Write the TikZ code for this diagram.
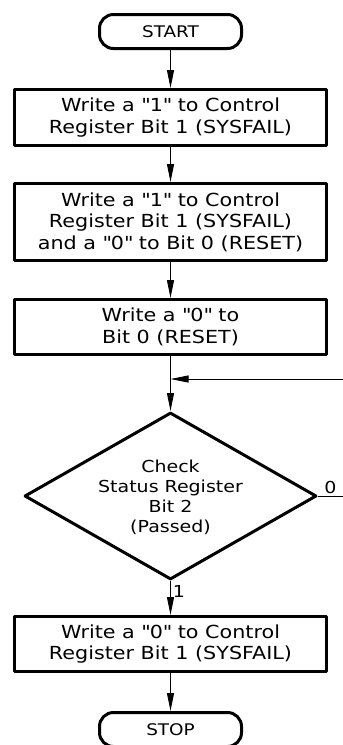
\documentclass[tikz,border=0pt]{standalone}
\usepackage{fontspec}
\setmainfont[FakeStretch=1.15]{DejaVu Sans}
\usetikzlibrary{shapes.geometric}
\usetikzlibrary{arrows.meta}
\newcommand{\qt}[1]{\textquotedbl#1\textquotedbl}

\begin{document}
\begin{tikzpicture}[line cap=round,line join=round,>={Triangle[length=18pt,width=7pt]},x=1pt,y=-1pt,
            stepbox/.style={draw,line width=3pt,minimum width=312pt,inner sep=0pt,align=center,font=\fontsize{18}{21.5}\selectfont},
            endbox/.style={draw,line width=3pt,rounded corners=14pt,minimum width=142pt,minimum height=34pt,inner sep=0pt,font=\fontsize{16}{19}\selectfont},
            testbox/.style={draw,diamond,line width=3pt,aspect=1.75,inner sep=0pt,minimum width=292pt,minimum height=167pt,align=center,font=\fontsize{16.5}{20}\selectfont},
            flow/.style={->,line width=0.8pt},
            lbl/.style={font=\fontsize{16.5}{20}\selectfont,inner sep=2pt}]
            \useasboundingbox (0,0) rectangle (343,745);
            \node[endbox] (start) at (170.5,31.5) {START};
            \node[stepbox,minimum height=56pt] (wr1) at (170.5,117.5) {Write a \qt{1} to Control\\Register Bit 1 (SYSFAIL)};
            \node[stepbox,minimum height=77pt] (wr2) at (170.5,222) {Write a \qt{1} to Control\\Register Bit 1 (SYSFAIL)\\and a \qt{0} to Bit 0 (RESET)};
            \node[stepbox,minimum height=55pt] (wr3) at (170.5,327) {Write a \qt{0} to\\Bit 0 (RESET)};
            \node[testbox] (check) at (170.5,496) {\\[-4pt]Check\\Status Register\\Bit 2\\(Passed)};
            \node[stepbox,minimum height=55pt] (wr4) at (170.5,644) {Write a \qt{0} to Control\\Register Bit 1 (SYSFAIL)};
            \node[endbox] (stop) at (170.5,729.5) {STOP};

            \coordinate (back) at (343,379);
            \coordinate (join) at (wr3.south |- back);
            \coordinate (fail) at (343,496);

            \draw [flow] (start) -- (wr1);
            \draw [flow] (wr1) -- (wr2);
            \draw [flow] (wr2) -- (wr3);
            \draw [flow] (wr3) -- (check);
            \draw [flow] (back) -- (join);
            \draw [line width=0.8pt] (check.east) -- node [lbl,above] {0} (fail);
            \draw [flow] (check.south) -- node [lbl,right,pos=0.3] {1} (wr4);
            \draw [flow] (wr4) -- (stop);
            \end{tikzpicture}
\end{document}
